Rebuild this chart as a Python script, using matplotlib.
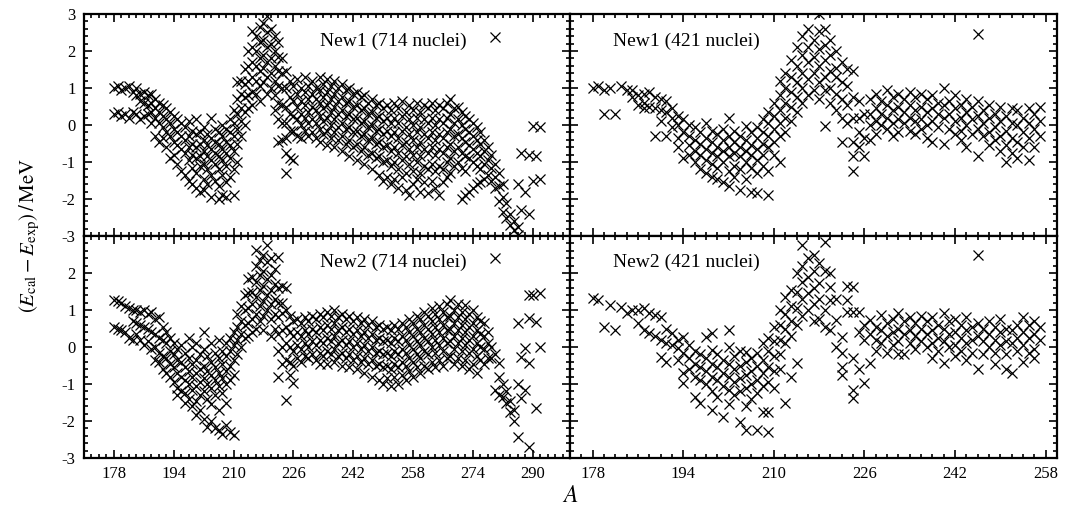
import matplotlib
matplotlib.use("Agg")
import matplotlib.pyplot as plt
from matplotlib.ticker import MultipleLocator

plt.rcParams['font.family'] = ['Liberation Serif', 'DejaVu Serif']
plt.rcParams['mathtext.fontset'] = 'stix'

# ---------------- data (A, list of deviations E_cal - E_exp in MeV) ----------------
a_new1_714 = list(range(178, 293))
d_new1_714 = [
    [1.00, 0.30], [1.05, 0.35], [0.95, 0.25], [1.00, 0.30], [1.05, 0.20],
    [0.90, 0.35], [1.00, 0.80, 0.30], [0.85, 0.65, 0.15], [0.90, 0.60, 0.25], [0.80, 0.55, 0.30],
    [0.85, 0.60, 0.35, 0.05], [0.70, 0.45, 0.20, -0.30], [0.60, 0.35, 0.05, -0.45], [0.55, 0.25, -0.05, -0.35], [0.45, 0.15, -0.20, -0.60],
    [0.35, 0.05, -0.30, -0.90], [0.25, -0.10, -0.45, -0.80], [0.15, -0.20, -0.55, -1.05], [0.05, -0.30, -0.65, -1.25], [-0.05, -0.40, -0.75, -1.35],
    [0.10, -0.30, -0.60, -0.95, -1.50], [-0.15, -0.50, -0.80, -1.15, -1.60], [0.15, -0.25, -0.60, -0.90, -1.30, -1.70], [-0.20, -0.50, -0.85, -1.10, -1.80], [-0.05, -0.40, -0.70, -1.05, -1.45, -1.75],
    [-0.25, -0.55, -0.85, -1.20, -1.60], [0.20, -0.35, -0.65, -0.95, -1.35, -1.95], [-0.10, -0.45, -0.75, -1.05, -1.50], [-0.20, -0.50, -0.85, -1.20, -1.65, -2.00], [0.00, -0.30, -0.65, -0.95, -1.35, -1.90],
    [-0.10, -0.45, -0.75, -1.10, -1.55, -1.95], [0.15, -0.20, -0.55, -0.90, -1.40], [0.40, 0.05, -0.30, -0.70, -1.20, -1.90], [1.15, 0.70, 0.30, -0.10, -0.50, -1.00], [1.20, 0.85, 0.45, 0.10, -0.30],
    [1.50, 1.10, 0.75, 0.35, 0.00], [2.00, 1.60, 1.20, 0.80, 0.45], [2.55, 2.10, 1.70, 1.30, 0.90, 0.55], [2.40, 2.00, 1.60, 1.20, 0.85], [2.65, 2.25, 1.80, 1.45, 1.05, 0.65],
    [2.75, 2.30, 1.90, 1.55, 1.15], [2.95, 2.50, 2.10, 1.70, 1.30, 0.85], [2.60, 2.20, 1.80, 1.40, 1.00], [2.40, 2.00, 1.60, 1.20, 0.80, 0.40], [2.25, 1.85, 1.45, 1.05, 0.60, 0.15, -0.45],
    [1.80, 1.40, 1.00, 0.55, 0.05, -0.40], [1.45, 1.00, 0.50, 0.05, -0.35, -0.75, -1.30], [1.20, 0.75, 0.30, -0.15, -0.90], [1.05, 0.65, 0.25, -0.15, -0.95], [1.25, 0.85, 0.50, 0.15, -0.30],
    [1.00, 0.65, 0.30, 0.00, -0.35], [1.30, 0.90, 0.55, 0.20, -0.15], [1.05, 0.70, 0.35, 0.05, -0.30], [1.20, 0.85, 0.50, 0.15, -0.20], [1.00, 0.70, 0.40, 0.05, -0.35],
    [1.30, 0.95, 0.60, 0.25, -0.10, -0.45], [1.10, 0.75, 0.45, 0.10, -0.25], [1.25, 0.90, 0.55, 0.20, -0.15, -0.55], [1.05, 0.70, 0.35, 0.00, -0.35], [1.20, 0.85, 0.50, 0.15, -0.20, -0.60],
    [1.00, 0.65, 0.30, -0.05, -0.40], [1.10, 0.75, 0.40, 0.05, -0.30, -0.70], [0.95, 0.60, 0.25, -0.10, -0.50], [1.00, 0.65, 0.30, -0.05, -0.40, -0.85], [0.85, 0.50, 0.15, -0.20, -0.60],
    [0.90, 0.55, 0.20, -0.15, -0.50, -0.95], [0.75, 0.40, 0.05, -0.30, -0.70], [0.80, 0.45, 0.10, -0.25, -0.60, -1.05], [0.60, 0.30, -0.05, -0.40, -0.80], [0.70, 0.35, 0.00, -0.35, -0.75, -1.20],
    [0.55, 0.20, -0.15, -0.50, -0.90], [0.60, 0.25, -0.10, -0.45, -0.85, -1.35], [0.45, 0.10, -0.25, -0.60, -1.00, -1.50], [0.55, 0.20, -0.15, -0.55, -0.95, -1.40], [0.40, 0.05, -0.30, -0.70, -1.10, -1.60],
    [0.60, 0.20, -0.20, -0.60, -1.00, -1.45], [0.45, 0.05, -0.35, -0.75, -1.20, -1.70], [0.65, 0.25, -0.15, -0.55, -0.95, -1.40], [0.35, -0.05, -0.45, -0.85, -1.30, -1.75], [0.55, 0.15, -0.25, -0.65, -1.05, -1.90],
    [0.40, 0.00, -0.40, -0.80, -1.25, -1.60], [0.60, 0.20, -0.20, -0.60, -1.00, -1.45], [0.35, -0.05, -0.45, -0.85, -1.30, -1.80], [0.55, 0.15, -0.25, -0.65, -1.10, -1.55], [0.45, 0.05, -0.35, -0.75, -1.20, -1.85],
    [0.60, 0.20, -0.20, -0.60, -1.05, -1.50], [0.40, 0.00, -0.40, -0.80, -1.25, -1.70], [0.55, 0.15, -0.25, -0.65, -1.10, -1.90], [0.45, 0.05, -0.35, -0.75, -1.20, -1.55], [0.60, 0.20, -0.20, -0.60, -1.00, -1.40],
    [0.70, 0.30, -0.10, -0.50, -0.90, -1.30], [0.45, 0.05, -0.30, -0.70, -1.10], [0.50, 0.15, -0.25, -0.60, -1.00], [0.35, 0.00, -0.35, -0.75, -1.15, -2.00], [0.25, -0.10, -0.45, -0.85, -1.25, -1.90],
    [0.15, -0.20, -0.55, -0.90, -1.80], [0.05, -0.30, -0.65, -1.00, -1.70], [-0.05, -0.40, -0.75, -1.10, -1.60], [-0.20, -0.50, -0.85, -1.20, -1.55], [-0.40, -0.70, -1.05, -1.45],
    [-0.60, -0.95, -1.35], [-0.80, -1.15, -1.50], [2.38, -1.05, -1.40, -1.70], [-1.30, -1.65, -2.05], [-1.60, -1.95, -2.35],
    [-2.10, -2.50], [-2.40, -2.70], [-2.60, -2.85], [-1.60, -2.75, -2.98], [-0.75, -2.30],
    [-1.80], [-0.80, -2.40], [-0.03, -1.50], [-0.85], [-0.05, -1.45],
]

a_new1_421 = list(range(178, 258))
d_new1_421 = [
    [1.00], [1.05], [0.30, 0.95], [1.00], [0.30],
    [1.05], [0.95], [0.95, 0.75], [0.80, 0.55], [0.85, 0.60, 0.45],
    [0.90, 0.50], [0.75, 0.45, -0.30], [0.70, 0.40, 0.10], [0.65, 0.35, -0.30], [0.45, 0.20, -0.05],
    [0.25, 0.00, -0.35, -0.60], [0.15, -0.20, -0.90], [0.00, -0.30, -0.55, -0.80], [-0.05, -0.40, -0.70, -1.00], [-0.20, -0.50, -0.80, -1.20],
    [0.05, -0.35, -0.65, -0.95, -1.30], [-0.15, -0.45, -0.75, -1.05, -1.40], [-0.25, -0.60, -0.85, -1.15, -1.45], [-0.10, -0.40, -0.70, -1.00, -1.55], [0.20, -0.30, -0.60, -0.85, -1.25, -1.65],
    [-0.15, -0.45, -0.75, -1.10, -1.40], [-0.30, -0.60, -0.85, -1.20, -1.75], [-0.03, -0.40, -0.70, -1.00, -1.45], [-0.20, -0.55, -0.80, -1.15, -1.80], [-0.05, -0.35, -0.65, -0.95, -1.30, -1.85],
    [0.15, -0.20, -0.50, -0.80, -1.10], [0.35, 0.05, -0.30, -0.60, -1.25, -1.90], [0.60, 0.25, -0.10, -0.45, -0.80], [1.20, 0.80, 0.40, 0.05, -0.30, -1.00], [1.40, 1.00, 0.60, 0.20, -0.20],
    [1.75, 1.30, 0.90, 0.50, 0.10], [2.10, 1.60, 1.15, 0.75, 0.35], [2.40, 1.90, 1.40, 1.00, 0.60], [2.60, 2.10, 1.70, 1.25, 0.80], [2.30, 1.85, 1.40, 0.95],
    [3.00, 2.55, 2.05, 1.60, 1.15, 0.70], [2.60, 2.15, 1.75, 1.30, 0.95, -0.03], [2.30, 1.90, 1.45, 1.00, 0.60], [2.00, 1.55, 1.30, 0.85, 0.40], [1.70, 1.15, 0.70, 0.20, -0.45],
    [1.50, 1.05, 0.55, 0.05], [1.45, 0.75, 0.20, -0.45, -0.85, -1.25], [0.65, 0.20, -0.20, -0.60], [-0.85, 0.30, -0.35], [0.70, 0.30, 0.00, -0.40],
    [0.85, 0.45, 0.10, -0.25], [0.65, 0.30, 0.00], [0.95, 0.55, 0.20, -0.10], [0.75, 0.40, 0.05, -0.30], [0.85, 0.50, 0.15, -0.20],
    [0.70, 0.35, 0.05], [0.90, 0.55, 0.20, -0.15], [0.75, 0.40, 0.10, -0.25], [0.85, 0.50, 0.15, -0.10], [0.70, 0.35, 0.00, -0.35],
    [0.80, 0.45, 0.10, -0.45], [0.60, 0.30, -0.05], [1.00, 0.55, 0.20, -0.50], [0.65, 0.30, -0.10], [0.80, 0.45, 0.10, -0.25],
    [0.55, 0.20, -0.15, -0.40], [0.70, 0.35, 0.00, -0.60], [0.50, 0.15, -0.25], [2.46, 0.65, 0.25, -0.10, -0.85], [0.40, 0.05, -0.30],
    [0.55, 0.20, -0.20, -0.55], [0.30, -0.05, -0.40], [0.50, 0.10, -0.30, -0.70], [0.25, -0.15, -0.55, -1.00], [0.45, 0.05, -0.35, -0.75],
    [0.40, 0.00, -0.45, -0.90], [0.20, -0.20, -0.60], [0.45, 0.05, -0.35, -0.95], [0.30, -0.10, -0.60], [0.50, 0.10, -0.30],
]

a_new2_714 = list(range(178, 293))
d_new2_714 = [
    [1.27, 0.55], [1.25, 0.50], [1.20, 0.45], [1.10, 0.40], [1.05, 0.25],
    [1.00, 0.70, 0.20], [1.00, 0.65, 0.35], [0.95, 0.60, 0.20], [1.00, 0.55, 0.05], [0.90, 0.50, 0.15],
    [0.95, 0.40, -0.05], [0.75, 0.35, 0.00, -0.35], [0.80, 0.25, -0.15, -0.40], [0.55, 0.20, -0.25, -0.60], [0.40, 0.10, -0.30, -0.70],
    [0.25, -0.10, -0.45, -0.80], [0.10, -0.20, -0.55, -0.95], [-0.05, -0.35, -0.70, -1.10, -1.30], [0.05, -0.40, -0.80, -1.20], [-0.15, -0.55, -0.90, -1.25, -1.50],
    [0.25, -0.30, -0.65, -1.00, -1.40], [0.00, -0.45, -0.80, -1.15, -1.60], [0.10, -0.35, -0.70, -1.05, -1.45, -1.85], [-0.20, -0.60, -0.95, -1.30, -1.70], [0.40, -0.05, -0.50, -0.85, -1.20, -1.95],
    [-0.25, -0.65, -1.00, -1.40, -2.15], [0.10, -0.40, -0.75, -1.10, -1.55, -2.00], [-0.15, -0.55, -0.90, -1.30, -2.20], [0.20, -0.30, -0.70, -1.05, -1.70, -2.25], [-0.10, -0.45, -0.85, -1.25, -2.35],
    [0.10, -0.25, -0.65, -1.00, -1.50, -2.10], [0.25, -0.10, -0.50, -0.90, -2.30], [0.40, 0.05, -0.35, -0.75, -2.38], [0.90, 0.55, 0.20, -0.20], [1.10, 0.70, 0.35, 0.00],
    [1.40, 1.00, 0.60, 0.25], [1.85, 1.45, 1.05, 0.65, 0.30], [1.90, 1.50, 1.15, 0.75, 0.40], [2.62, 2.20, 1.75, 1.35, 0.90, 0.50], [2.35, 1.95, 1.55, 1.10, 0.70],
    [2.50, 2.05, 1.65, 1.25, 0.85, 0.45], [2.76, 2.30, 1.85, 1.40, 1.00], [2.40, 1.95, 1.55, 1.15, 0.75, 0.30], [2.10, 1.70, 1.30, 0.90, 0.50], [2.44, 1.60, 1.20, 0.80, 0.35, -0.10, -0.80],
    [1.65, 1.20, 0.92, 0.45, 0.00, -0.45], [1.60, 1.00, 0.55, 0.10, -0.35, -1.42], [0.85, 0.40, 0.00, -0.40, -0.75], [0.70, 0.30, -0.10, -0.50, -0.96], [0.75, 0.40, 0.05, -0.30],
    [0.65, 0.30, -0.05, -0.40], [0.80, 0.45, 0.10, -0.25], [0.70, 0.35, 0.00, -0.30], [0.85, 0.50, 0.15, -0.20], [0.75, 0.40, 0.05, -0.35],
    [0.90, 0.55, 0.20, -0.15, -0.45], [0.80, 0.45, 0.10, -0.25], [0.95, 0.60, 0.25, -0.10, -0.45], [0.85, 0.50, 0.15, -0.20], [1.00, 0.65, 0.30, -0.05, -0.40],
    [0.80, 0.45, 0.10, -0.25], [0.90, 0.55, 0.20, -0.15, -0.50], [0.75, 0.40, 0.05, -0.30], [0.85, 0.50, 0.15, -0.20, -0.55], [0.70, 0.35, 0.00, -0.35],
    [0.80, 0.45, 0.10, -0.25, -0.60], [0.65, 0.30, -0.05, -0.40], [0.75, 0.40, 0.05, -0.30, -0.70], [0.60, 0.25, -0.10, -0.45], [0.70, 0.35, 0.00, -0.35, -0.80],
    [0.55, 0.20, -0.15, -0.50], [0.60, 0.25, -0.10, -0.45, -0.90], [0.50, 0.15, -0.20, -0.55, -1.00], [0.55, 0.20, -0.15, -0.50, -0.85], [0.45, 0.10, -0.25, -0.60, -1.05],
    [0.60, 0.25, -0.10, -0.45, -0.80], [0.50, 0.15, -0.20, -0.55, -1.00], [0.65, 0.30, -0.05, -0.40, -0.75], [0.55, 0.20, -0.15, -0.50, -0.90], [0.75, 0.40, 0.05, -0.30, -0.65],
    [0.65, 0.30, -0.05, -0.40, -0.80], [0.85, 0.50, 0.15, -0.20, -0.55], [0.75, 0.40, 0.05, -0.30, -0.70], [0.95, 0.60, 0.25, -0.10, -0.50], [0.85, 0.50, 0.15, -0.20, -0.60],
    [1.05, 0.70, 0.35, 0.00, -0.40], [0.90, 0.55, 0.20, -0.15, -0.55], [1.10, 0.75, 0.40, 0.05, -0.35], [0.95, 0.60, 0.25, -0.10, -0.50], [1.15, 0.80, 0.45, 0.10, -0.30],
    [1.27, 0.85, 0.50, 0.15, -0.25], [1.00, 0.65, 0.30, -0.05, -0.45], [1.15, 0.80, 0.45, 0.10, -0.30], [0.95, 0.60, 0.25, -0.10, -0.50], [1.14, 0.75, 0.40, 0.05, -0.35],
    [0.90, 0.55, 0.20, -0.15, -0.60], [1.00, 0.65, 0.30, -0.05, -0.45], [0.80, 0.45, 0.10, -0.25, -0.70], [0.70, 0.35, 0.00, -0.35], [0.66, 0.30, -0.05, -0.45],
    [0.40, 0.10, -0.30], [0.00, -0.30], [2.40, -0.20, -1.16], [-0.43, -0.80, -1.30], [-1.00, -1.34],
    [-1.20, -1.50], [-1.45, -1.77], [-1.70, -2.00], [0.65, -1.00, -2.42], [-1.38, -0.26],
    [-0.02, -1.16], [1.41, 0.79, -0.43, -2.69], [1.41], [0.68, -1.65], [1.46, 0.00],
]

a_new2_421 = list(range(178, 258))
d_new2_421 = [
    [1.33], [1.27], [0.55], [1.14], [0.47],
    [1.09], [0.92], [1.00], [0.65, 1.00], [1.05, 0.47],
    [0.92, 0.38], [0.87, 0.30], [0.82, 0.20, -0.26], [0.50, 0.12, -0.40], [0.38, 0.05],
    [0.20, -0.02, -0.35], [0.28, -0.15, -0.70, -0.96], [0.05, -0.30, -0.60], [-0.10, -0.45, -0.80, -1.34], [-0.20, -0.55, -0.90, -1.50],
    [0.28, -0.30, -0.65, -1.00], [0.38, -0.07, -0.45, -0.80, -1.20, -1.70], [-0.20, -0.55, -0.90, -1.35], [-0.35, -0.70, -1.05, -1.88], [0.47, 0.00, -0.45, -0.80, -1.15, -1.55],
    [-0.25, -0.60, -0.95, -1.30], [-0.10, -0.50, -0.85, -1.20, -2.04], [-0.13, -0.40, -0.75, -1.10, -1.60, -2.23], [-0.30, -0.65, -1.00, -1.40], [-0.15, -0.50, -0.90, -1.25, -2.23],
    [0.10, -0.35, -0.70, -1.05, -1.77], [0.25, -0.10, -0.55, -0.95, -1.77, -2.30], [0.55, 0.15, -0.25, -0.65, -1.10], [1.00, 0.60, 0.20, -0.20, -0.60], [1.36, 0.90, 0.50, 0.10, -1.50],
    [1.55, 1.10, 0.70, 0.30, -0.80], [2.00, 1.50, 1.05, 0.60, -0.43], [2.76, 2.20, 1.75, 1.30, 0.85], [2.40, 1.90, 1.45, 1.00], [2.49, 2.05, 1.60, 1.15, 0.70],
    [2.27, 1.73, 1.30, 0.75], [2.84, 2.05, 1.00, 0.55], [2.00, 1.63, 1.27, 0.47], [1.30, 0.74, 0.00], [0.28, -0.15, -0.53, -0.75],
    [1.65, 1.27, 0.95], [1.63, 0.95, -1.16, -1.37, -0.30], [0.95, 0.40, -0.60], [0.60, 0.20, -0.96], [0.74, 0.35, -0.43],
    [0.55, 0.20, -0.10], [0.87, 0.45, 0.10], [0.65, 0.30, -0.15], [0.75, 0.40, 0.05], [0.92, 0.50, 0.15, -0.20],
    [0.70, 0.35, -0.20], [0.80, 0.45, 0.10], [0.65, 0.30, -0.05], [0.85, 0.50, 0.15], [0.70, 0.35, 0.00],
    [0.80, 0.45, 0.10, -0.30], [0.60, 0.25, -0.10], [0.92, 0.50, 0.15, -0.43], [0.70, 0.35, 0.00], [0.75, 0.40, 0.05, -0.25],
    [0.60, 0.25, -0.10], [0.80, 0.45, 0.10, -0.35], [0.55, 0.20, -0.15], [2.49, 0.65, 0.30, -0.60], [0.50, 0.15, -0.20],
    [0.70, 0.35, 0.00], [0.55, 0.20, -0.15, -0.45], [0.75, 0.40, 0.05], [0.50, 0.15, -0.20, -0.60], [0.45, 0.10, -0.70],
    [0.60, 0.25, -0.10], [0.80, 0.40, 0.05, -0.40], [0.60, 0.25, -0.15], [0.70, 0.35, -0.05, -0.30], [0.55, 0.20],
]

panel_titles = ["New1 (714 nuclei)", "New1 (421 nuclei)", "New2 (714 nuclei)", "New2 (421 nuclei)"]
x_ticks_left = [178, 194, 210, 226, 242, 258, 274, 290]
x_ticks_right = [178, 194, 210, 226, 242, 258]
y_ticks = [-3, -2, -1, 0, 1, 2, 3]


def flatten(a_list, d_list):
    xs, ys = [], []
    for a, ds in zip(a_list, d_list):
        for d in ds:
            xs.append(a)
            ys.append(d)
    return xs, ys


fig = plt.figure(figsize=(10.66, 5.17), dpi=100)
L0, W0 = 84 / 1066, 486 / 1066
L1, W1 = 570 / 1066, 487 / 1066
H = 222 / 517
B_top = 1 - 236 / 517
B_bot = 1 - 458 / 517

axes = [
    fig.add_axes([L0, B_top, W0, H]),
    fig.add_axes([L1, B_top, W1, H]),
    fig.add_axes([L0, B_bot, W0, H]),
    fig.add_axes([L1, B_bot, W1, H]),
]
datasets = [(a_new1_714, d_new1_714), (a_new1_421, d_new1_421),
            (a_new2_714, d_new2_714), (a_new2_421, d_new2_421)]

for i, (ax, (al, dl)) in enumerate(zip(axes, datasets)):
    xs, ys = flatten(al, dl)
    ax.plot(xs, ys, linestyle='none', marker='x', color='black',
            markersize=6.5, markeredgewidth=0.9, clip_on=True)
    left = (i % 2 == 0)
    top = (i < 2)
    if left:
        ax.set_xlim(170, 300)
        ax.set_xticks(x_ticks_left)
        ax.text(233, 2.25 if top else 2.3, panel_titles[i], fontsize=14,
                ha='left', va='center')
    else:
        ax.set_xlim(174, 260)
        ax.set_xticks(x_ticks_right)
        ax.text(181.6, 2.25 if top else 2.3, panel_titles[i], fontsize=14,
                ha='left', va='center')
    ax.set_ylim(-3, 3)
    ax.set_yticks(y_ticks)
    ax.xaxis.set_minor_locator(MultipleLocator(2))
    ax.yaxis.set_minor_locator(MultipleLocator(0.2))
    ax.tick_params(which='both', direction='in', top=True, right=True,
                   labelsize=12, width=1.2)
    ax.tick_params(which='major', length=6, pad=6)
    ax.tick_params(which='minor', length=3)
    for sp in ax.spines.values():
        sp.set_linewidth(1.6)
    if top:
        ax.set_xticklabels([])
    if not left:
        ax.set_yticklabels([])
    elif not top:
        ax.set_yticklabels(['-3', '-2', '-1', '0', '1', '2', ''])
    else:
        ax.set_yticklabels(['-3', '-2', '-1', '0', '1', '2', '3'])

fig.text(30 / 1066, 1 - 236 / 517,
         r'$(E_{\mathrm{cal}}-E_{\mathrm{exp}})\,/\,\mathrm{MeV}$',
         rotation=90, ha='center', va='center', fontsize=15)
fig.text(570 / 1066, 1 - 497 / 517, r'$A$', ha='center', va='center', fontsize=17)

fig.savefig('out.png', dpi=100)
